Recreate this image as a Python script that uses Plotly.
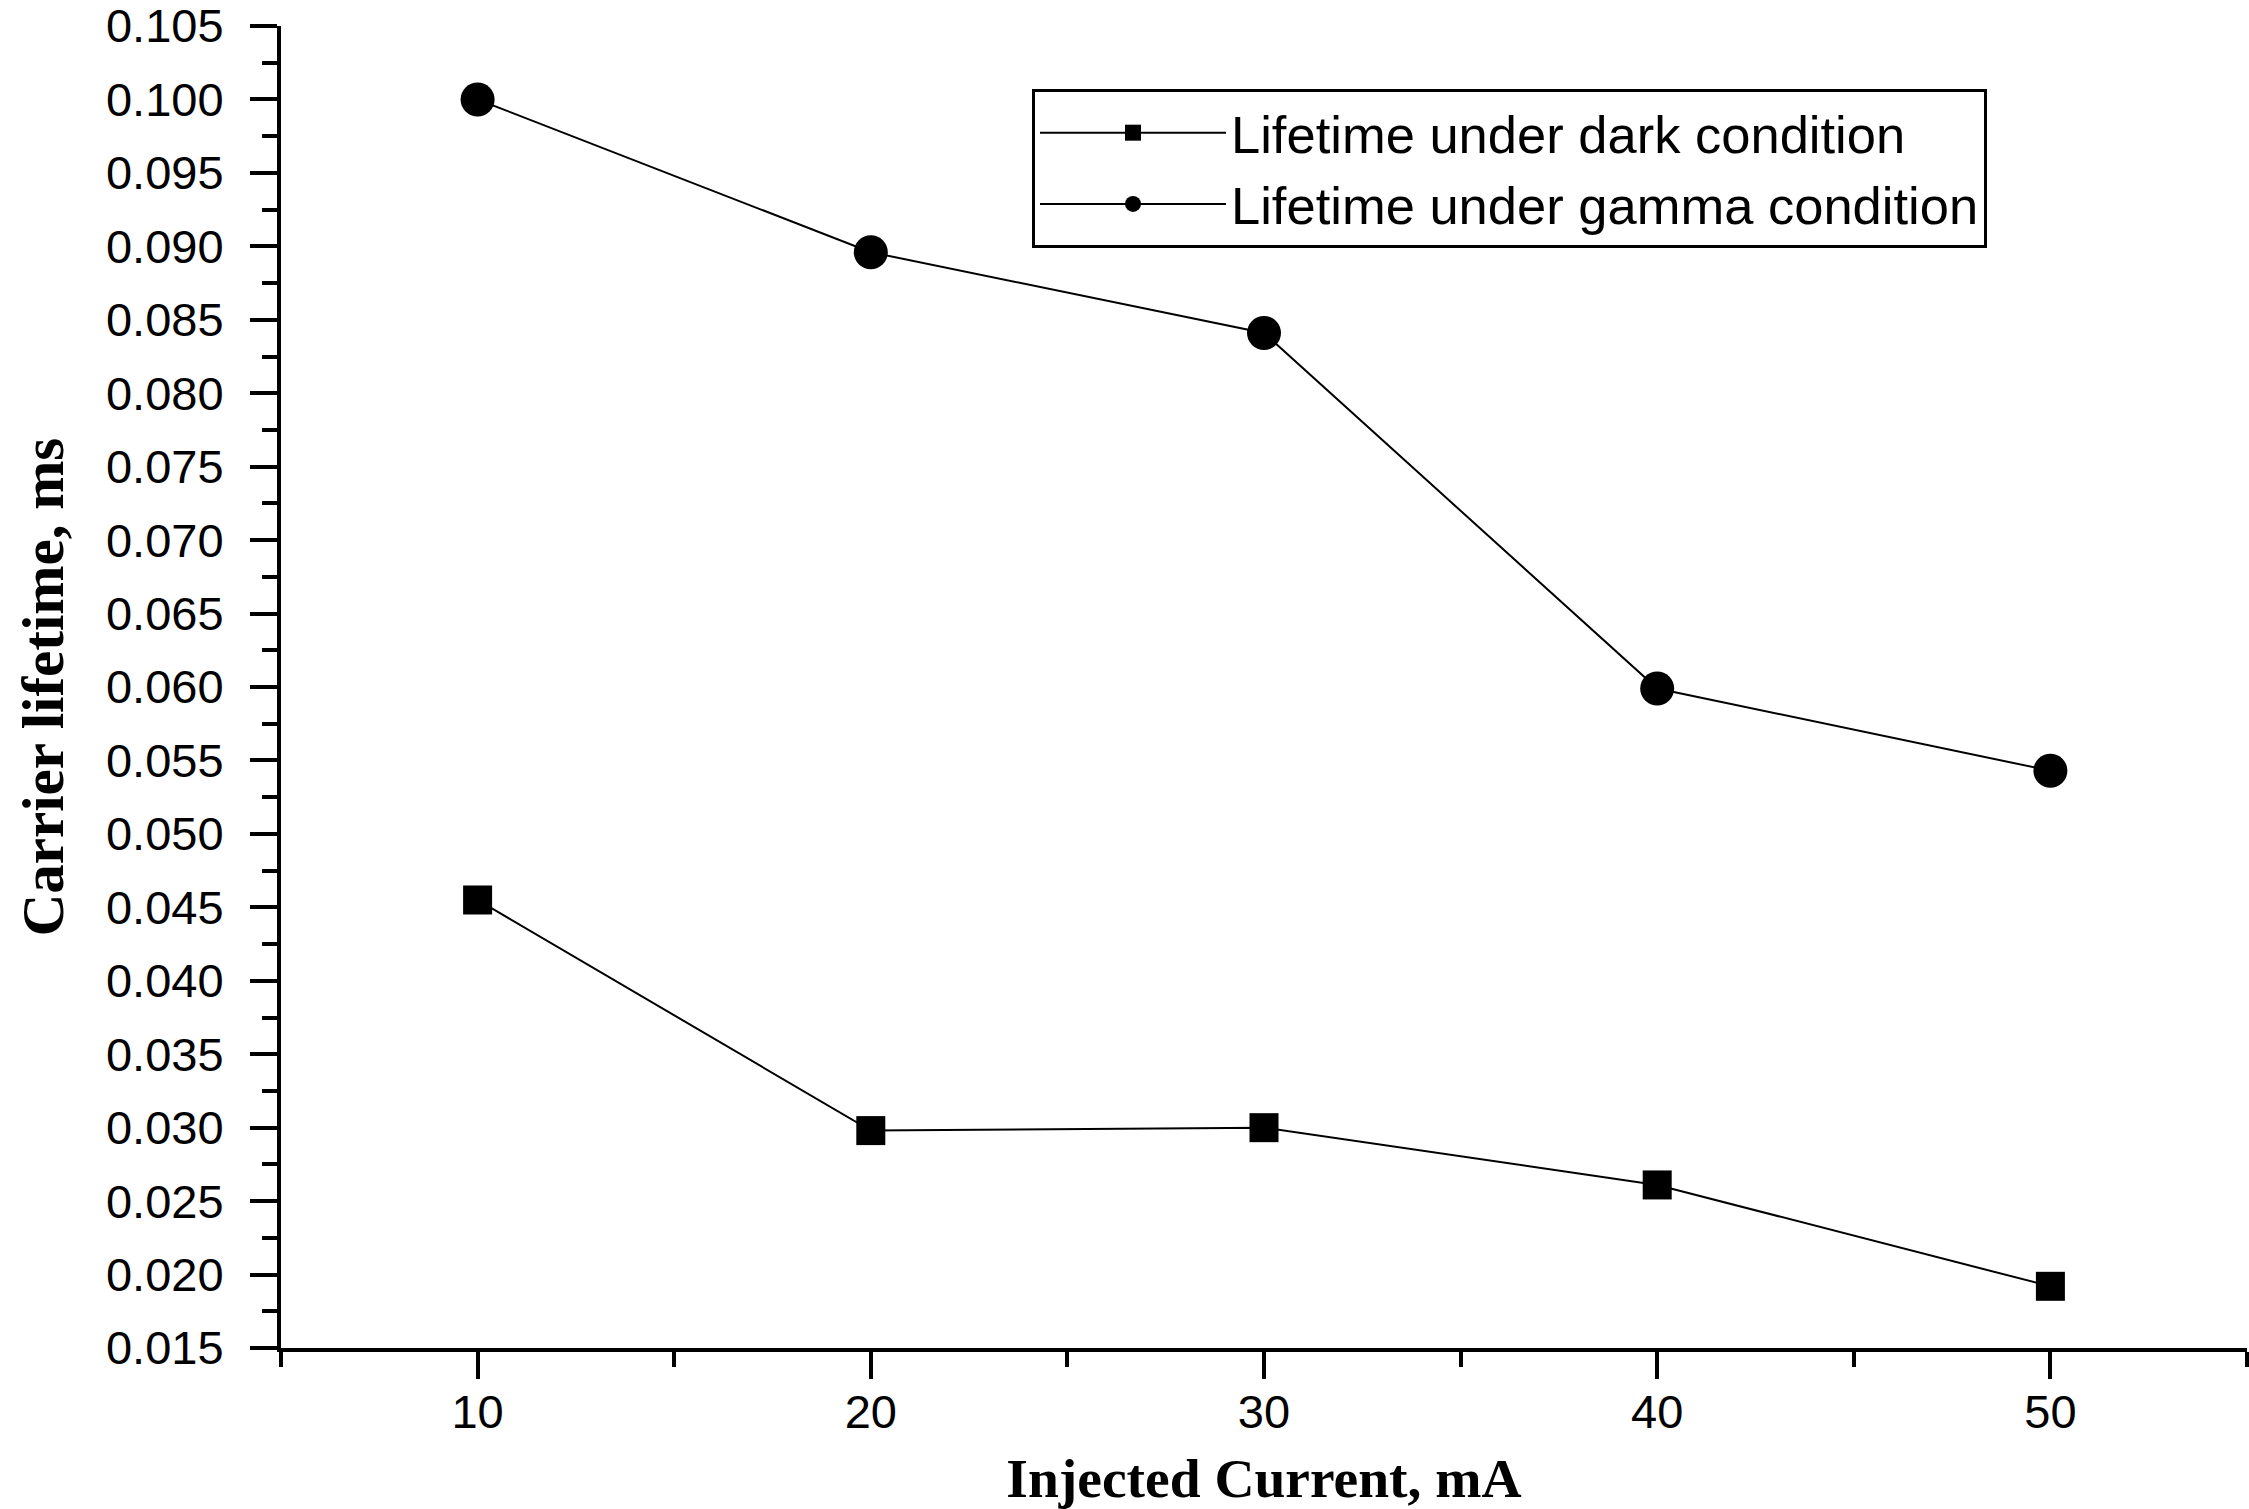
import plotly.graph_objects as go

current_mA = [10, 20, 30, 40, 50]
lifetime_dark = [0.0455, 0.0298, 0.0300, 0.0261, 0.0192]
lifetime_gamma = [0.1000, 0.0896, 0.0841, 0.0599, 0.0543]
series_names = ["Lifetime under dark condition", "Lifetime under gamma condition"]

fig = go.Figure()
fig.add_trace(go.Scatter(
    x=current_mA, y=lifetime_dark, mode="lines+markers", name=series_names[0],
    line=dict(color="black", width=2),
    marker=dict(symbol="square", size=29, color="black"),
))
fig.add_trace(go.Scatter(
    x=current_mA, y=lifetime_gamma, mode="lines+markers", name=series_names[1],
    line=dict(color="black", width=2),
    marker=dict(symbol="circle", size=34, color="black"),
))

tick_font = dict(family="Arial, Liberation Sans, sans-serif", size=47, color="black")
xtitle_font = dict(family="Times New Roman, Liberation Serif, serif", size=55.5, color="black")
ytitle_font = dict(family="Times New Roman, Liberation Serif, serif", size=59, color="black")

fig.update_layout(
    width=2249, height=1509,
    paper_bgcolor="white", plot_bgcolor="white",
    margin=dict(l=281, r=2, t=26, b=161, autoexpand=False),
    showlegend=True,
    legend=dict(
        x=0.382, y=0.9523, xanchor="left", yanchor="top",
        bgcolor="white", bordercolor="black", borderwidth=3,
        font=dict(family="Arial, Liberation Sans, sans-serif", size=52.5, color="black"),
        itemsizing="trace", itemwidth=186, tracegroupgap=0,
    ),
    xaxis=dict(
        range=[5, 55], tick0=10, dtick=10, automargin=False,
        showline=True, linecolor="black", linewidth=4,
        ticks="outside", ticklen=27, tickwidth=4, tickcolor="black",
        minor=dict(ticks="outside", dtick=5, tick0=5, ticklen=15, tickwidth=4, tickcolor="black"),
        showgrid=False, zeroline=False,
        tickfont=tick_font, ticklabelstandoff=-7, ticklabeloverflow="allow",
        title=dict(text="<b>Injected Current, mA</b>", font=xtitle_font, standoff=28),
    ),
    yaxis=dict(
        range=[0.015, 0.1050001], tick0=0.015, dtick=0.005, tickformat=".3f", automargin=False,
        showline=True, linecolor="black", linewidth=4,
        ticks="outside", ticklen=27, tickwidth=4, tickcolor="black",
        minor=dict(ticks="outside", dtick=0.0025, tick0=0.015, ticklen=15, tickwidth=4, tickcolor="black"),
        showgrid=False, zeroline=False,
        tickfont=tick_font, ticklabelstandoff=17, ticklabeloverflow="allow",
        title=dict(text="<b>Carrier lifetime, ms</b>", font=ytitle_font, standoff=24),
    ),
)

fig.write_html("out.html")
